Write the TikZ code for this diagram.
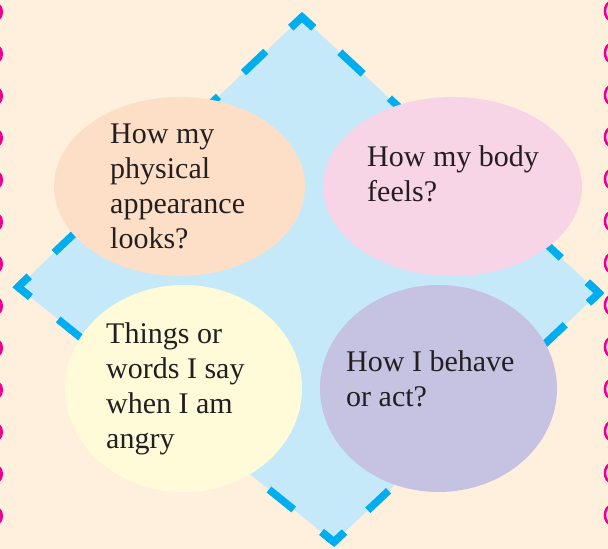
\documentclass[tikz,border=0pt]{standalone}
\usepackage{fontspec}
\setmainfont{Liberation Serif}
\usetikzlibrary{shapes.geometric,calc}
\definecolor{cream}{HTML}{FFF0DE}
\definecolor{dotmag}{HTML}{EC008C}
\definecolor{diafill}{HTML}{C5E9F9}
\definecolor{diaedge}{HTML}{00AEEF}
\definecolor{peach}{HTML}{FDDFC8}
\definecolor{pinkish}{HTML}{F8D4E7}
\definecolor{paleyel}{HTML}{FFFBD9}
\definecolor{lavend}{HTML}{C6C3E2}
\definecolor{txt}{HTML}{231F20}
\tikzset{
  blob/.style={ellipse, inner sep=0pt, draw=none},
  label text/.style={anchor=base west, inner sep=0pt, align=left, text=txt,
    font=\fontsize{30}{35}\selectfont},
  edgeline/.style={draw=diaedge, line width=7.5pt, line cap=butt},
}
\begin{document}
\begin{tikzpicture}[x=1pt,y=-1pt]
\useasboundingbox (0,0) rectangle (608,549);
\fill[cream] (0,0) rectangle (608,549);
% side dots
\foreach \k in {0,...,12}{
  \fill[dotmag] (-2,{12+42*\k}) ellipse [x radius=5, y radius=8];
  \draw[dotmag, line width=2.5pt] (611,{11+42*\k}) ellipse [x radius=6, y radius=9];
}
% diamond
\coordinate (T) at (302,17);
\coordinate (R) at (599,293);
\coordinate (B) at (334,542);
\coordinate (L) at (18,287);
\fill[diafill] (T) -- (R) -- (B) -- (L) -- cycle;
\draw[edgeline, dash pattern=on 31.8pt off 35.8pt, dash phase=15.9pt] (T) -- (R);
\draw[edgeline, dash pattern=on 28.5pt off 32.1pt, dash phase=14.25pt] (R) -- (B);
\draw[edgeline, dash pattern=on 31.8pt off 35.9pt, dash phase=15.9pt] (B) -- (L);
\draw[edgeline, dash pattern=on 30.7pt off 34.6pt, dash phase=15.35pt] (L) -- (T);
\draw[edgeline, line join=miter] ($(T)!15.35pt!(L)$) -- (T) -- ($(T)!15.9pt!(R)$);
\draw[edgeline, line join=miter] ($(R)!15.9pt!(T)$) -- (R) -- ($(R)!14.25pt!(B)$);
\draw[edgeline, line join=miter] ($(B)!14.25pt!(R)$) -- (B) -- ($(B)!15.9pt!(L)$);
\draw[edgeline, line join=miter] ($(L)!15.9pt!(B)$) -- (L) -- ($(L)!15.35pt!(T)$);
% ellipses
\node[blob, fill=peach, minimum width=251pt, minimum height=179pt] (phys) at (179.5,186.5) {};
\node[blob, fill=pinkish, minimum width=259pt, minimum height=179pt] (body) at (452.5,186.5) {};
\node[blob, fill=paleyel, minimum width=237pt, minimum height=207pt] (words) at (183.5,388.5) {};
\node[blob, fill=lavend, minimum width=237pt, minimum height=207pt] (behave) at (438.5,388.5) {};
% texts (base anchor = baseline of last line)
\node[label text] (physt) at (110,248) {How my\\physical\\appearance\\looks?};
\node[label text] (bodyt) at (367,201) {How my body\\feels?};
\node[label text] (wordst) at (106,448) {Things or\\words I say\\when I am\\angry};
\node[label text] (behavet) at (346,406) {How I behave\\or act?};
\end{tikzpicture}
\end{document}
